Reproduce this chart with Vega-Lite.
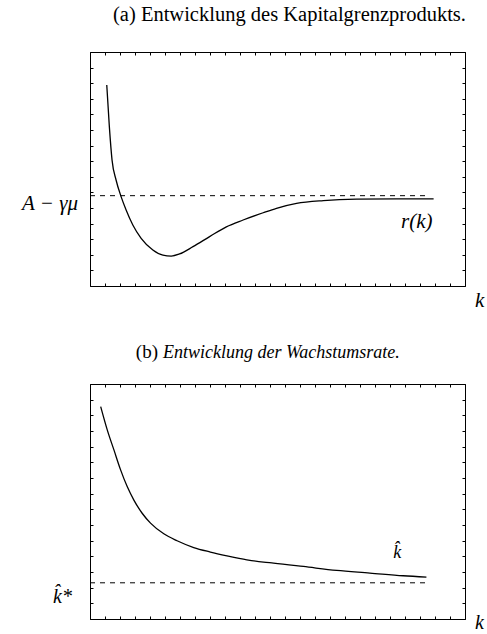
{
  "$schema": "https://vega.github.io/schema/vega-lite/v6.json",
  "autosize": {"type": "none"},
  "padding": {"left": 90, "top": 52, "right": 397, "bottom": 582},
  "background": "white",
  "bounds": "flush",
  "spacing": 98,
  "config": {
    "view": {"stroke": "black", "strokeWidth": 1},
    "axis": {"labels": false, "domain": false, "grid": false, "tickSize": -3, "tickColor": "black", "tickWidth": 1},
    "font": "Liberation Serif"
  },
  "datasets": {
    "top_curve": [
      {"k": 4.47, "r": 85.9}, {"k": 5.16, "r": 68.1}, {"k": 5.88, "r": 53.8}, {"k": 6.95, "r": 45.3},
      {"k": 8.29, "r": 38.2}, {"k": 9.63, "r": 32.5}, {"k": 11.42, "r": 26.1}, {"k": 13.64, "r": 20.4},
      {"k": 16.76, "r": 15.4}, {"k": 19.44, "r": 13.2}, {"k": 21.66, "r": 12.8}, {"k": 23.88, "r": 13.7},
      {"k": 27.46, "r": 16.8}, {"k": 31.9, "r": 21.1}, {"k": 36.36, "r": 25.3}, {"k": 40.83, "r": 28.2},
      {"k": 46.18, "r": 31.3}, {"k": 49.73, "r": 33.2}, {"k": 55.08, "r": 35.3}, {"k": 62.22, "r": 36.5},
      {"k": 71.07, "r": 37.1}, {"k": 81.8, "r": 37.2}, {"k": 91.63, "r": 37.2}
    ],
    "top_level": [{"k": 0, "r": 38.6}, {"k": 89.8, "r": 38.6}],
    "bottom_curve": [
      {"k": 2.85, "g": 90.4}, {"k": 4.6, "g": 80.5}, {"k": 6.38, "g": 71.95}, {"k": 8.16, "g": 63.45},
      {"k": 9.92, "g": 56.35}, {"k": 11.7, "g": 50.6}, {"k": 13.91, "g": 45.0}, {"k": 16.14, "g": 40.8},
      {"k": 19.68, "g": 36.25}, {"k": 23.22, "g": 33.3}, {"k": 27.66, "g": 30.4}, {"k": 32.1, "g": 28.5},
      {"k": 36.52, "g": 26.9}, {"k": 41.84, "g": 25.2}, {"k": 46.28, "g": 24.2}, {"k": 48.94, "g": 23.8},
      {"k": 56.91, "g": 22.35}, {"k": 65.77, "g": 20.65}, {"k": 74.65, "g": 19.55}, {"k": 83.51, "g": 18.4},
      {"k": 89.71, "g": 17.85}
    ],
    "bottom_level": [{"k": 0, "g": 15.4}, {"k": 89.7, "g": 15.4}]
  },
  "vconcat": [
    {
      "width": 375,
      "height": 234,
      "resolve": {"axis": {"x": "independent", "y": "independent"}},
      "layer": [
        {
          "data": {"name": "top_curve"},
          "mark": {"type": "line", "color": "black", "strokeWidth": 1.3, "interpolate": "monotone"},
          "encoding": {
            "x": {"field": "k", "type": "quantitative", "scale": {"domain": [0, 100], "nice": false, "zero": false},
                  "axis": {"orient": "bottom", "title": null, "values": [0,4,8,12,16,20,24,28,32,36,40,44,48,52,56,60,64,68,72,76,80,84,88,92,96,100]}},
            "y": {"field": "r", "type": "quantitative", "scale": {"domain": [0, 100], "nice": false, "zero": false},
                  "axis": {"orient": "left", "title": null, "values": [0,6.67,13.33,20,26.67,33.33,40,46.67,53.33,60,66.67,73.33,80,86.67,93.33,100]}}
          }
        },
        {
          "data": {"name": "top_level"},
          "mark": {"type": "line", "color": "black", "strokeWidth": 1, "strokeDash": [5, 5]},
          "encoding": {
            "x": {"field": "k", "type": "quantitative", "scale": {"domain": [0, 100], "nice": false, "zero": false},
                  "axis": {"orient": "top", "title": null, "values": [0,4,8,12,16,20,24,28,32,36,40,44,48,52,56,60,64,68,72,76,80,84,88,92,96,100]}},
            "y": {"field": "r", "type": "quantitative", "scale": {"domain": [0, 100], "nice": false, "zero": false},
                  "axis": {"orient": "right", "title": null, "values": [0,6.67,13.33,20,26.67,33.33,40,46.67,53.33,60,66.67,73.33,80,86.67,93.33,100]}}
          }
        },
        {
          "data": {"values": [{"label": "(a) Entwicklung des Kapitalgrenzprodukts."}]},
          "mark": {"type": "text", "font": "Liberation Serif", "fontSize": 20.5, "align": "center", "baseline": "alphabetic", "dx": 12, "dy": -31, "color": "black"},
          "encoding": {
            "x": {"datum": 50, "type": "quantitative", "axis": null},
            "y": {"datum": 100, "type": "quantitative", "axis": null},
            "text": {"field": "label"}
          }
        },
        {
          "data": {"values": [{"label": "A − γμ"}]},
          "mark": {"type": "text", "font": "Liberation Serif", "fontStyle": "italic", "fontSize": 21, "align": "right", "baseline": "alphabetic", "dx": -12, "dy": 14, "color": "black"},
          "encoding": {
            "x": {"datum": 0, "type": "quantitative", "axis": null},
            "y": {"datum": 38.6, "type": "quantitative", "axis": null},
            "text": {"field": "label"}
          }
        },
        {
          "data": {"values": [{"label": "r(k)"}]},
          "mark": {"type": "text", "font": "Liberation Serif", "fontStyle": "italic", "fontSize": 21, "align": "center", "baseline": "alphabetic", "dx": 2, "color": "black"},
          "encoding": {
            "x": {"datum": 86.6, "type": "quantitative", "axis": null},
            "y": {"datum": 24.8, "type": "quantitative", "axis": null},
            "text": {"field": "label"}
          }
        },
        {
          "data": {"values": [{"label": "k"}]},
          "mark": {"type": "text", "font": "Liberation Serif", "fontStyle": "italic", "fontSize": 21, "align": "left", "baseline": "alphabetic", "dx": 10, "dy": 21, "color": "black"},
          "encoding": {
            "x": {"datum": 100, "type": "quantitative", "axis": null},
            "y": {"datum": 0, "type": "quantitative", "axis": null},
            "text": {"field": "label"}
          }
        }
      ]
    },
    {
      "width": 375,
      "height": 235,
      "resolve": {"axis": {"x": "independent", "y": "independent"}},
      "layer": [
        {
          "data": {"name": "bottom_curve"},
          "mark": {"type": "line", "color": "black", "strokeWidth": 1.3, "interpolate": "monotone"},
          "encoding": {
            "x": {"field": "k", "type": "quantitative", "scale": {"domain": [0, 100], "nice": false, "zero": false},
                  "axis": {"orient": "bottom", "title": null, "values": [0,4,8,12,16,20,24,28,32,36,40,44,48,52,56,60,64,68,72,76,80,84,88,92,96,100]}},
            "y": {"field": "g", "type": "quantitative", "scale": {"domain": [0, 100], "nice": false, "zero": false},
                  "axis": {"orient": "left", "title": null, "values": [0,6.67,13.33,20,26.67,33.33,40,46.67,53.33,60,66.67,73.33,80,86.67,93.33,100]}}
          }
        },
        {
          "data": {"name": "bottom_level"},
          "mark": {"type": "line", "color": "black", "strokeWidth": 1, "strokeDash": [5, 5]},
          "encoding": {
            "x": {"field": "k", "type": "quantitative", "scale": {"domain": [0, 100], "nice": false, "zero": false},
                  "axis": {"orient": "top", "title": null, "values": [0,4,8,12,16,20,24,28,32,36,40,44,48,52,56,60,64,68,72,76,80,84,88,92,96,100]}},
            "y": {"field": "g", "type": "quantitative", "scale": {"domain": [0, 100], "nice": false, "zero": false},
                  "axis": {"orient": "right", "title": null, "values": [0,6.67,13.33,20,26.67,33.33,40,46.67,53.33,60,66.67,73.33,80,86.67,93.33,100]}}
          }
        },
        {
          "data": {"values": [{"label": "(b)"}]},
          "mark": {"type": "text", "font": "Liberation Serif", "fontSize": 19, "align": "right", "baseline": "alphabetic", "dx": 68, "dy": -26, "color": "black"},
          "encoding": {
            "x": {"datum": 0, "type": "quantitative", "axis": null},
            "y": {"datum": 100, "type": "quantitative", "axis": null},
            "text": {"field": "label"}
          }
        },
        {
          "data": {"values": [{"label": "Entwicklung der Wachstumsrate."}]},
          "mark": {"type": "text", "font": "Liberation Serif", "fontStyle": "italic", "fontSize": 18, "align": "left", "baseline": "alphabetic", "dx": 73, "dy": -26, "color": "black"},
          "encoding": {
            "x": {"datum": 0, "type": "quantitative", "axis": null},
            "y": {"datum": 100, "type": "quantitative", "axis": null},
            "text": {"field": "label"}
          }
        },
        {
          "data": {"values": [{"label": "k̂"}]},
          "mark": {"type": "text", "font": "Liberation Serif", "fontStyle": "italic", "fontSize": 18, "align": "center", "baseline": "alphabetic", "color": "black"},
          "encoding": {
            "x": {"datum": 81.9, "type": "quantitative", "axis": null},
            "y": {"datum": 26.0, "type": "quantitative", "axis": null},
            "text": {"field": "label"}
          }
        },
        {
          "data": {"values": [{"label": "k̂*"}]},
          "mark": {"type": "text", "font": "Liberation Serif", "fontStyle": "italic", "fontSize": 20, "align": "right", "baseline": "alphabetic", "dx": -18, "dy": 20, "color": "black"},
          "encoding": {
            "x": {"datum": 0, "type": "quantitative", "axis": null},
            "y": {"datum": 15.4, "type": "quantitative", "axis": null},
            "text": {"field": "label"}
          }
        },
        {
          "data": {"values": [{"label": "k"}]},
          "mark": {"type": "text", "font": "Liberation Serif", "fontStyle": "italic", "fontSize": 20, "align": "left", "baseline": "alphabetic", "dx": 10, "dy": 10, "color": "black"},
          "encoding": {
            "x": {"datum": 100, "type": "quantitative", "axis": null},
            "y": {"datum": 0, "type": "quantitative", "axis": null},
            "text": {"field": "label"}
          }
        }
      ]
    }
  ]
}
